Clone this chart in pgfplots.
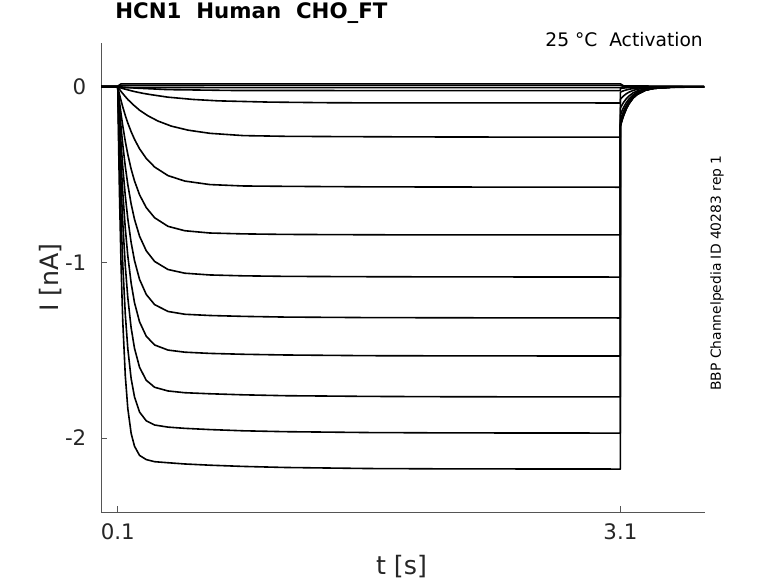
\documentclass[border=0pt]{standalone}
\usepackage{fontspec}
\setmainfont{DejaVu Sans}
\usepackage{pgfplots}
\pgfplotsset{compat=1.18}
\definecolor{axgray}{HTML}{555555}
\definecolor{txt}{HTML}{262626}
\begin{document}
\begin{tikzpicture}
\useasboundingbox (0,0) rectangle (583.5pt,437.25pt);
\begin{axis}[
  at={(75.75pt,53.25pt)}, anchor=south west,
  scale only axis, width=453pt, height=351.75pt,
  xmin=0, xmax=3.605, ymin=-2.4217, ymax=0.2507,
  axis lines*=left,
  axis line style={axgray, line width=0.5pt},
  xtick={0.1,3.1}, xticklabels={0.1,3.1},
  ytick={-2,-1,0}, yticklabels={-2,-1,0},
  tick align=inside, major tick length=4.5pt,
  tick style={axgray, line width=0.5pt},
  ticklabel style={font=\fontsize{16}{19}\selectfont, text=txt},
  xticklabel style={yshift=-5pt},
  yticklabel style={xshift=-7.5pt},
  xlabel={t [s]}, ylabel={I [nA]},
  xlabel style={at={(axis description cs:0.4975,-0.1335)}, anchor=base, inner sep=0pt, font=\fontsize{19}{23}\selectfont, text=txt},
  ylabel style={at={(axis description cs:-0.0700,0.5)}, anchor=base, inner sep=0pt, font=\fontsize{19}{23}\selectfont, text=txt},
  title={HCN1\ \ Human\ \ CHO\_FT},
  title style={at={(axis description cs:0.0232,1.0362)}, anchor=base west, inner sep=0pt, font=\bfseries\fontsize{16}{19}\selectfont},
  clip=false,
  cycle list={black,solid\\},
  every axis plot post/.append style={black, solid, mark=none, line width=1.2pt, line join=round},
]
% near-zero traces
\addplot coordinates {(0,0.005)(0.1,0.005)(0.12,0.018)(3.1,0.018)(3.12,0.006)(3.6,0.004)};
\addplot coordinates {(0,0.004)(0.1,0.004)(0.12,0.009)(3.1,0.009)(3.12,0.004)(3.6,0.002)};
\addplot coordinates {(0,0.003)(0.1,0.003)(0.13,-0.003)(3.1,-0.004)(3.12,0.001)(3.6,0.001)};
\addplot coordinates {(0,0.002)(0.1,0.002)(0.2,-0.006)(0.4,-0.015)(0.8,-0.02)(3.1,-0.021)(3.1,-0.008)(3.15,-0.003)(3.25,0)(3.6,0)};
% -0.09
\addplot coordinates {(0,0)(0.1,0)(0.12,-0.006)(0.15,-0.014)(0.2,-0.026)(0.25,-0.036)(0.3,-0.044)(0.4,-0.058)(0.55,-0.071)(0.7,-0.079)(1.0,-0.086)(1.4,-0.090)(3.1,-0.091)
  (3.1,-0.030)(3.11,-0.025)(3.12,-0.021)(3.135,-0.017)(3.15,-0.013)(3.175,-0.009)(3.2,-0.006)(3.25,-0.002)(3.3,-0.001)(3.6,0)};
% -0.285
\addplot coordinates {(0,0)(0.1,0)(0.11,-0.013)(0.12,-0.026)(0.14,-0.049)(0.16,-0.071)(0.19,-0.099)(0.23,-0.132)(0.28,-0.164)(0.34,-0.194)(0.42,-0.223)(0.52,-0.246)(0.65,-0.264)(0.85,-0.277)(1.1,-0.281)(1.5,-0.283)(2.1,-0.285)(3.1,-0.286)
  (3.1,-0.070)(3.11,-0.059)(3.12,-0.050)(3.135,-0.039)(3.15,-0.030)(3.175,-0.020)(3.2,-0.013)(3.25,-0.006)(3.3,-0.002)(3.6,0)};
% -0.57
\addplot coordinates {(0,0)(0.1,0)(0.105,-0.021)(0.11,-0.041)(0.12,-0.079)(0.13,-0.114)(0.145,-0.162)(0.16,-0.205)(0.18,-0.255)(0.2,-0.298)(0.23,-0.352)(0.27,-0.407)(0.32,-0.456)(0.4,-0.505)(0.5,-0.536)(0.65,-0.556)(0.85,-0.564)(1.1,-0.566)(1.6,-0.569)(2.1,-0.570)(3.1,-0.571)
  (3.1,-0.120)(3.11,-0.102)(3.12,-0.086)(3.135,-0.067)(3.15,-0.052)(3.175,-0.034)(3.2,-0.023)(3.25,-0.010)(3.3,-0.004)(3.4,-0.001)(3.6,0)};
% -0.843
\addplot coordinates {(0,0)(0.1,0)(0.105,-0.042)(0.11,-0.082)(0.12,-0.155)(0.13,-0.222)(0.145,-0.309)(0.16,-0.384)(0.18,-0.468)(0.2,-0.535)(0.23,-0.614)(0.27,-0.687)(0.32,-0.745)(0.4,-0.794)(0.5,-0.819)(0.65,-0.832)(0.85,-0.837)(1.1,-0.840)(1.6,-0.842)(2.1,-0.843)(3.1,-0.843)
  (3.1,-0.160)(3.11,-0.135)(3.12,-0.115)(3.135,-0.089)(3.15,-0.070)(3.175,-0.046)(3.2,-0.030)(3.25,-0.013)(3.3,-0.006)(3.4,-0.001)(3.6,0)};
% -1.083
\addplot coordinates {(0,0)(0.1,0)(0.105,-0.064)(0.11,-0.123)(0.12,-0.233)(0.13,-0.329)(0.145,-0.453)(0.16,-0.556)(0.18,-0.667)(0.2,-0.754)(0.23,-0.850)(0.27,-0.933)(0.32,-0.994)(0.4,-1.040)(0.5,-1.061)(0.65,-1.071)(0.85,-1.076)(1.1,-1.079)(1.6,-1.081)(2.1,-1.082)(3.1,-1.083)
  (3.1,-0.190)(3.11,-0.161)(3.12,-0.136)(3.135,-0.106)(3.15,-0.083)(3.175,-0.054)(3.2,-0.036)(3.25,-0.016)(3.3,-0.007)(3.4,-0.001)(3.6,0)};
% -1.316
\addplot coordinates {(0,0)(0.1,0)(0.105,-0.091)(0.11,-0.175)(0.12,-0.326)(0.13,-0.456)(0.145,-0.620)(0.16,-0.751)(0.18,-0.887)(0.2,-0.989)(0.23,-1.096)(0.27,-1.182)(0.32,-1.240)(0.4,-1.279)(0.5,-1.295)(0.65,-1.302)(0.85,-1.307)(1.1,-1.311)(1.6,-1.314)(2.1,-1.315)(3.1,-1.316)
  (3.1,-0.205)(3.11,-0.174)(3.12,-0.147)(3.135,-0.114)(3.15,-0.089)(3.175,-0.059)(3.2,-0.039)(3.25,-0.017)(3.3,-0.007)(3.4,-0.001)(3.6,0)};
% -1.533
\addplot coordinates {(0,0)(0.1,0)(0.105,-0.123)(0.11,-0.236)(0.12,-0.434)(0.13,-0.602)(0.145,-0.805)(0.16,-0.962)(0.18,-1.118)(0.2,-1.229)(0.23,-1.338)(0.27,-1.420)(0.32,-1.470)(0.4,-1.499)(0.5,-1.511)(0.65,-1.518)(0.85,-1.523)(1.1,-1.527)(1.6,-1.531)(2.1,-1.532)(3.1,-1.533)
  (3.1,-0.215)(3.11,-0.182)(3.12,-0.154)(3.135,-0.120)(3.15,-0.093)(3.175,-0.062)(3.2,-0.041)(3.25,-0.018)(3.3,-0.008)(3.4,-0.001)(3.6,0)};
% -1.766
\addplot coordinates {(0,0)(0.1,0)(0.105,-0.163)(0.11,-0.311)(0.12,-0.565)(0.13,-0.774)(0.145,-1.019)(0.16,-1.201)(0.18,-1.373)(0.2,-1.489)(0.23,-1.597)(0.27,-1.671)(0.32,-1.711)(0.4,-1.732)(0.5,-1.742)(0.65,-1.748)(0.85,-1.754)(1.1,-1.759)(1.6,-1.763)(2.1,-1.765)(3.1,-1.766)
  (3.1,-0.220)(3.11,-0.186)(3.12,-0.158)(3.135,-0.123)(3.15,-0.096)(3.175,-0.063)(3.2,-0.042)(3.25,-0.018)(3.3,-0.008)(3.4,-0.001)(3.6,0)};
% -1.972
\addplot coordinates {(0,0)(0.1,0)(0.105,-0.225)(0.11,-0.423)(0.12,-0.754)(0.13,-1.011)(0.145,-1.295)(0.16,-1.491)(0.18,-1.662)(0.2,-1.766)(0.23,-1.852)(0.27,-1.902)(0.32,-1.926)(0.4,-1.938)(0.5,-1.945)(0.65,-1.952)(0.85,-1.959)(1.1,-1.964)(1.6,-1.969)(2.1,-1.971)(3.1,-1.972)
  (3.1,-0.220)(3.11,-0.186)(3.12,-0.158)(3.135,-0.123)(3.15,-0.096)(3.175,-0.063)(3.2,-0.042)(3.25,-0.018)(3.3,-0.008)(3.4,-0.001)(3.6,0)};
% -2.177
\addplot coordinates {(0,0)(0.1,0)(0.105,-0.324)(0.11,-0.599)(0.12,-1.028)(0.13,-1.337)(0.145,-1.645)(0.16,-1.832)(0.18,-1.974)(0.2,-2.047)(0.23,-2.099)(0.27,-2.123)(0.32,-2.135)(0.4,-2.141)(0.5,-2.148)(0.65,-2.155)(0.85,-2.162)(1.1,-2.168)(1.6,-2.174)(2.1,-2.176)(3.1,-2.177)
  (3.1,-0.225)(3.11,-0.190)(3.12,-0.161)(3.135,-0.126)(3.15,-0.098)(3.175,-0.064)(3.2,-0.043)(3.25,-0.018)(3.3,-0.008)(3.4,-0.002)(3.6,0)};
\node[anchor=base east, inner sep=0pt, font=\fontsize{14}{17}\selectfont] at (axis description cs:0.9967,0.99147) {25 °C\ \ Activation};
\node[rotate=90, inner sep=0pt, font=\fontsize{10.4}{12.5}\selectfont] at (axis description cs:1.0199,0.5096) {BBP Channelpedia ID 40283 rep 1};
\end{axis}
\end{tikzpicture}
\end{document}
